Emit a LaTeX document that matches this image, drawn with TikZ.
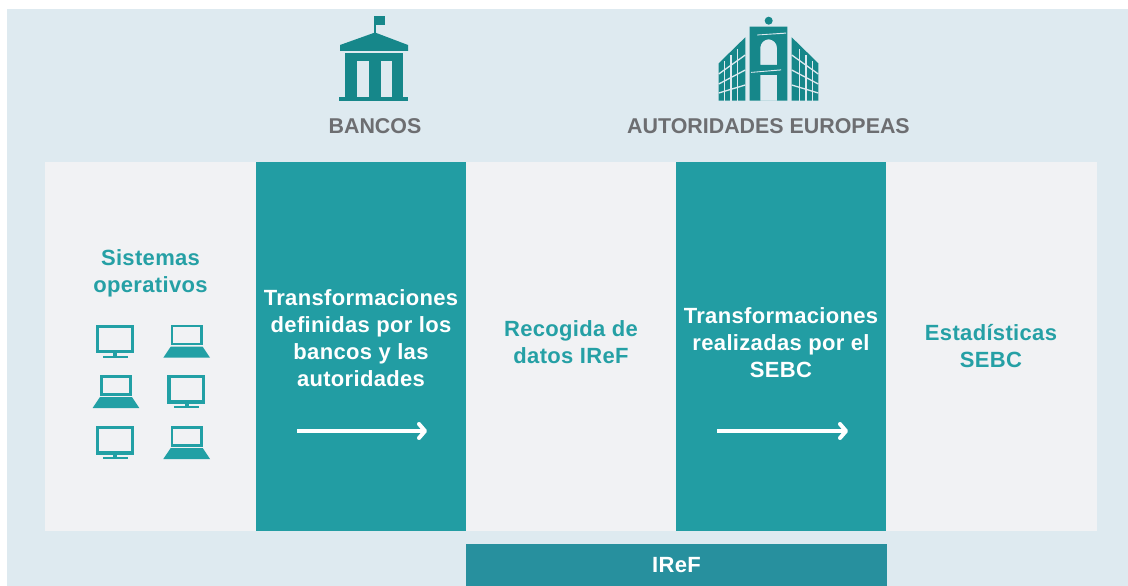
\documentclass[tikz,border=0pt]{standalone}
\usepackage{fontspec}
\newfontfamily\hv[LetterSpace=1.5]{Liberation Sans}
\newfontfamily\hvh{Liberation Sans}
\usetikzlibrary{arrows.meta}
\definecolor{bgblue}{HTML}{DEEAF0}
\definecolor{colgray}{HTML}{F1F2F4}
\definecolor{colteal}{HTML}{229DA3}
\definecolor{barteal}{HTML}{27909E}
\definecolor{icondark}{HTML}{16878A}
\definecolor{graytxt}{HTML}{6D6E71}
\definecolor{tealtxt}{HTML}{25A0A5}
\definecolor{pcteal}{HTML}{22A0A5}
\tikzset{
  lbl/.style={font=\hv\bfseries\fontsize{22}{27}\selectfont, align=center, inner sep=0pt},
  hdr/.style={font=\hvh\bfseries\fontsize{21.4}{26}\selectfont, inner sep=0pt, text=graytxt},
  flowarrow/.style={white, line width=4pt, -{Straight Barb[length=6pt,width=14pt,round]}},
  winglines/.style={bgblue, line width=1.3pt},
  monitorpic/.pic={
    \fill[pcteal] (0,0) rectangle (38,28.6);
    \fill[colgray] (3.3,3.3) rectangle (34.7,25.3);
    \fill[pcteal] (17.3,28.4) rectangle (21.3,31.2);
    \fill[pcteal] (7,31) rectangle (32,33);
  },
  laptoppic/.pic={
    \fill[pcteal] (0,0) rectangle (32,20.6);
    \fill[colgray] (2.7,2.7) rectangle (29.3,18);
    \fill[pcteal] (0,22) -- (32,22) -- (39.3,33) -- (-7.4,33) -- cycle;
  }
}
\begin{document}
\begin{tikzpicture}[x=1pt,y=-1pt]
\useasboundingbox (0,0) rectangle (1128,586);
\fill[white] (0,0) rectangle (1128,586);
\fill[bgblue] (7,9) rectangle (1128,586);
% columns
\fill[colgray] (45,162) rectangle (256,531);
\fill[colteal] (256,162) rectangle (466,531);
\fill[colgray] (466,162) rectangle (676,531);
\fill[colteal] (676,162) rectangle (886,531);
\fill[colgray] (886,162) rectangle (1097,531);
% IReF bar
\fill[barteal] (466,544) rectangle (887,586);
\node[lbl, text=white] (iref) at (676.5,565) {IReF};
% bank icon
\fill[icondark] (373.6,16) rectangle (375.8,34);
\fill[icondark] (375,16.5) rectangle (385,25);
\fill[icondark] (340,51) -- (340,45) -- (375,32.5) -- (408,45) -- (408,51) -- cycle;
\fill[icondark] (345,53) rectangle (403.3,60.7);
\fill[icondark] (345,60) rectangle (357,97);
\fill[icondark] (368.5,60) rectangle (380.5,97);
\fill[icondark] (391.5,60) rectangle (403.3,97);
\fill[icondark] (339.3,96.7) rectangle (408.3,101.5);
% european authorities icon
\fill[icondark] (768.7,20.7) circle (4);
\fill[icondark, even odd rule] (749.7,26.7) rectangle (787.3,100.7)
  (760.3,65) -- (760.3,47.65) .. controls (760.3,43) and (764.3,39.3) .. (768.65,39.3)
  .. controls (773,39.3) and (777,43) .. (777,47.65) -- (777,65) -- cycle
  (760.3,75) rectangle (777,100.7);
\fill[bgblue] (757,34.6) -- (786,32.6) -- (786,33.6) -- (757,35.4) -- cycle;
\fill[bgblue] (751,72) -- (781,69.4) -- (781,70.4) -- (751,72.8) -- cycle;
% left wing
\fill[icondark] (718.7,63.3) -- (745.3,37.3) -- (745.3,100.7) -- (718.7,100.7) -- cycle;
\draw[winglines] (724.5,61) -- (724.5,100.7) (731,55) -- (731,100.7) (737.5,49) -- (737.5,100.7);
\draw[winglines] (718.7,74) -- (745.3,55) (718.7,84) -- (745.3,70) (718.7,93) -- (745.3,85);
% right wing (mirror)
\fill[icondark] (818.3,63.3) -- (791.7,37.3) -- (791.7,100.7) -- (818.3,100.7) -- cycle;
\draw[winglines] (812.5,61) -- (812.5,100.7) (806,55) -- (806,100.7) (799.5,49) -- (799.5,100.7);
\draw[winglines] (818.3,74) -- (791.7,55) (818.3,84) -- (791.7,70) (818.3,93) -- (791.7,85);
% header labels
\node[hdr] (ban) at (375,126) {BANCOS};
\node[hdr] (aut) at (768.5,126) {AUTORIDADES EUROPEAS};
% column texts
\node[lbl, text=tealtxt] (sis) at (150.5,273.5) {Sistemas\\operativos};
\node[lbl, text=white] (tdb) at (361,338) {Transformaciones\\definidas por los\\bancos y las\\autoridades};
\node[lbl, text=tealtxt] (rec) at (571,342.5) {Recogida de\\datos IReF};
\node[lbl, text=white] (trs) at (781,342.5) {Transformaciones\\realizadas por el\\SEBC};
\node[lbl, text=tealtxt] (est) at (991,346) {Estadísticas\\SEBC};
% computers
\pic at (96,324.7) {monitorpic};
\pic at (170.7,324.7) {laptoppic};
\pic at (100,375) {laptoppic};
\pic at (167.3,375) {monitorpic};
\pic at (96,426) {monitorpic};
\pic at (170.7,426) {laptoppic};
% arrows
\coordinate (a1s) at (297,431);
\coordinate (a1e) at (427,431);
\coordinate (a2s) at (717,431);
\coordinate (a2e) at (848,431);
\draw[flowarrow] (a1s) -- (a1e);
\draw[flowarrow] (a2s) -- (a2e);
\end{tikzpicture}
\end{document}
